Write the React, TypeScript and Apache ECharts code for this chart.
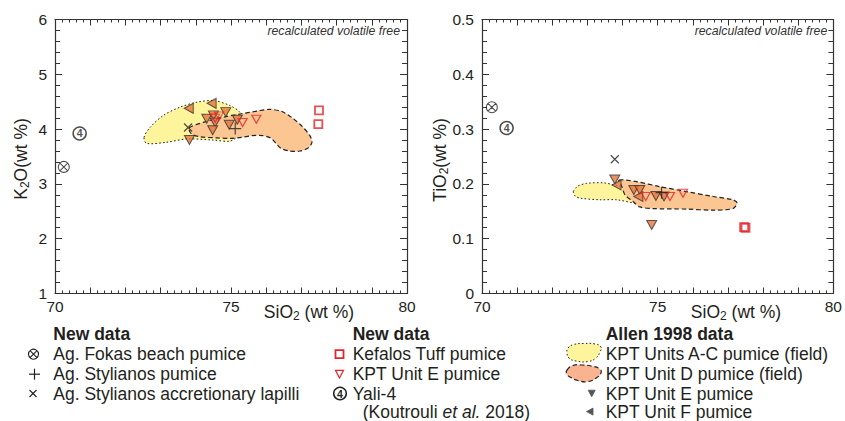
import React, { useEffect, useRef } from 'react';
import * as echarts from 'echarts';

const FONT = "'Liberation Sans', Arial, Helvetica, sans-serif";
const INK = '#231f20';
const RED = '#e3242b';
const ORANGE_MARK = '#e8743b';

// Axis ranges and labels
const SIO2_MIN = 70;
const SIO2_MAX = 80;
const SIO2_TICK_LABELS = [70, 75, 80];
const K2O_MIN = 1;
const K2O_MAX = 6;
const TIO2_MIN = 0;
const TIO2_MAX = 0.5;

// ---------- K2O vs SiO2 (left panel) ----------
const FOKAS_K2O = [[70.25, 3.31]];
const YALI_K2O = [[70.7, 3.92]];
const KEFALOS_K2O = [[77.5, 4.34], [77.48, 4.09]];
const NEW_E_K2O = [[74.55, 4.2], [74.66, 4.24], [75.33, 4.12], [75.72, 4.18]];
const STYL_PUMICE_K2O = [[75.12, 4.01]];
const STYL_LAPILLI_K2O = [[73.78, 4.03]];
const ALLEN_E_K2O = [[73.82, 3.8], [74.31, 4.19], [74.5, 4.25], [74.55, 4.12], [74.48, 3.98], [74.85, 4.31], [74.95, 4.08], [75.18, 4.17]];
const ALLEN_F_K2O = [[73.8, 4.38], [74.45, 4.47]];
const FIELD_AC_K2O = [[72.53, 3.85], [72.7, 4.03], [73.08, 4.25], [73.55, 4.4], [74.03, 4.49], [74.5, 4.52], [74.97, 4.43], [75.26, 4.3], [75.35, 4.1], [75.2, 3.88], [74.97, 3.78], [74.5, 3.8], [73.74, 3.82], [73.17, 3.76], [72.6, 3.74]];
const FIELD_D_K2O = [[73.81, 4.02], [74.3, 4.14], [74.8, 4.22], [75.3, 4.28], [75.75, 4.33], [76.1, 4.36], [76.45, 4.32], [76.75, 4.2], [77.02, 4.05], [77.24, 3.88], [77.3, 3.76], [77.2, 3.66], [76.96, 3.6], [76.66, 3.6], [76.42, 3.65], [76.28, 3.74], [76.12, 3.84], [75.9, 3.88], [75.6, 3.88], [75.3, 3.85], [75.0, 3.83], [74.6, 3.84], [74.12, 3.86], [73.88, 3.91]];

// ---------- TiO2 vs SiO2 (right panel) ----------
const FOKAS_TIO2 = [[70.28, 0.34]];
const YALI_TIO2 = [[70.7, 0.302]];
const KEFALOS_TIO2 = [[77.46, 0.121], [77.5, 0.12]];
const NEW_E_TIO2 = [[74.66, 0.177], [75.35, 0.177], [75.72, 0.183]];
const STYL_PUMICE_TIO2 = [[75.11, 0.184]];
const STYL_LAPILLI_TIO2 = [[73.78, 0.245]];
const ALLEN_E_TIO2 = [[73.78, 0.208], [74.32, 0.189], [74.49, 0.189], [74.95, 0.178], [75.18, 0.177], [74.83, 0.125]];
const ALLEN_F_TIO2 = [[73.83, 0.198], [74.45, 0.177]];
const FIELD_AC_TIO2 = [[72.6, 0.186], [72.73, 0.196], [72.98, 0.201], [73.45, 0.202], [73.78, 0.198], [74.21, 0.193], [74.78, 0.185], [75.2, 0.178], [75.29, 0.167], [75.07, 0.16], [74.49, 0.163], [73.83, 0.171], [73.36, 0.171], [72.79, 0.174], [72.65, 0.178]];
const FIELD_D_TIO2 = [[73.9, 0.207], [74.4, 0.204], [75.06, 0.195], [75.82, 0.186], [76.58, 0.177], [77.14, 0.171], [77.26, 0.165], [77.14, 0.155], [76.58, 0.152], [75.82, 0.154], [74.87, 0.155], [74.49, 0.158], [74.3, 0.168], [74.07, 0.18], [73.98, 0.195]];

// Legend texts
const LEGEND_HEAD_1 = 'New data';
const LEGEND_COL_1 = ['Ag. Fokas beach pumice', 'Ag. Stylianos pumice', 'Ag. Stylianos accretionary lapilli'];
const LEGEND_HEAD_2 = 'New data';
const LEGEND_COL_2 = ['Kefalos Tuff pumice', 'KPT Unit E pumice', 'Yali-4'];
const LEGEND_HEAD_3 = 'Allen 1998 data';
const LEGEND_COL_3 = ['KPT Units A-C pumice (field)', 'KPT Unit D pumice (field)', 'KPT Unit E pumice', 'KPT Unit F pumice'];
const NOTE = 'recalculated volatile free';

const OTIMES = 'path://M0,5A5,5,0,1,1,10,5A5,5,0,1,1,0,5ZM1.46,1.46L8.54,8.54M8.54,1.46L1.46,8.54';
const PLUS = 'path://M5,0L5,10M0,5L10,5';
const CROSS = 'path://M0,0L10,10M10,0L0,10';

const axisLineStyle = { color: '#333', width: 1.2 };
const tickStyle = { color: '#333', width: 1 };

function xAxisPair(gridIndex: number) {
  const base: any = {
    type: 'value', gridIndex, min: SIO2_MIN, max: SIO2_MAX, interval: 1,
    axisLine: { show: true, onZero: false, lineStyle: axisLineStyle },
    axisTick: { show: true, inside: true, length: 6, lineStyle: tickStyle },
    minorTick: { show: true, splitNumber: 5, length: 3, lineStyle: tickStyle },
    splitLine: { show: false }, minorSplitLine: { show: false },
  };
  return [
    {
      ...base, position: 'bottom',
      axisLabel: {
        show: true, margin: 5, fontSize: 15.5, fontFamily: FONT, color: INK,
        formatter: (v: number) => (SIO2_TICK_LABELS.some((t) => Math.abs(t - v) < 1e-6) ? String(v) : ''),
      },
    },
    { ...base, position: 'top', axisLabel: { show: false } },
  ];
}

function yAxisPair(gridIndex: number, min: number, max: number, interval: number) {
  const base: any = {
    type: 'value', gridIndex, min, max, interval,
    axisLine: { show: true, onZero: false, lineStyle: axisLineStyle },
    axisTick: { show: true, inside: true, length: 7, lineStyle: tickStyle },
    minorTick: { show: true, splitNumber: 5, length: 5, lineStyle: tickStyle },
    splitLine: { show: false }, minorSplitLine: { show: false },
  };
  return [
    { ...base, position: 'left', axisLabel: { show: true, margin: 8, fontSize: 15.5, fontFamily: FONT, color: INK } },
    { ...base, position: 'right', axisLabel: { show: false } },
  ];
}

function field(name: string, points: number[][], xi: number, yi: number, style: any) {
  return {
    type: 'custom', name, xAxisIndex: xi, yAxisIndex: yi, data: points, silent: true, z: 1,
    renderItem: (params: any, api: any) => {
      if (params.dataIndex !== 0) return null;
      const pts = points.map((p) => api.coord(p));
      return { type: 'polygon', shape: { points: pts, smooth: 0.3 }, style: { ...style } };
    },
  };
}

function pts(name: string, data: number[][], xi: number, yi: number, symbol: string, symbolSize: any, itemStyle: any, extra: any = {}) {
  return {
    type: 'scatter', name, data, xAxisIndex: xi, yAxisIndex: yi, symbol, symbolSize, itemStyle,
    silent: true, emphasis: { disabled: true }, z: 3, ...extra,
  };
}

const yellowStyle = { fill: '#fdf49c', stroke: '#222', lineWidth: 1, lineDash: [1.6, 2.2] };
const orangeStyle = { fill: '#fbc691', stroke: '#222', lineWidth: 1.2, lineDash: [4.5, 2.8], blend: 'multiply' };

function panelSeries(xi: number, yi: number, d: any) {
  return [
    field('KPT Units A-C pumice (field)', d.ac, xi, yi, yellowStyle),
    field('KPT Unit D pumice (field)', d.d, xi, yi, orangeStyle),
    pts('Allen KPT Unit E pumice', d.allenE, xi, yi, 'triangle', [10, 9], { color: ORANGE_MARK, borderColor: '#333', borderWidth: 1 }, { symbolRotate: 180 }),
    pts('Allen KPT Unit F pumice', d.allenF, xi, yi, 'triangle', [10, 9], { color: ORANGE_MARK, borderColor: '#333', borderWidth: 1 }, { symbolRotate: 90 }),
    pts('KPT Unit E pumice', d.newE, xi, yi, 'triangle', [9, 8], { color: 'rgba(0,0,0,0)', borderColor: RED, borderWidth: 1.2 }, { symbolRotate: 180 }),
    pts('Kefalos Tuff pumice', d.kef, xi, yi, 'rect', 8, { color: 'rgba(0,0,0,0)', borderColor: RED, borderWidth: 1.8 }),
    pts('Ag. Stylianos pumice', d.stylP, xi, yi, PLUS, 12, { color: 'rgba(0,0,0,0)', borderColor: INK, borderWidth: 1.2 }),
    pts('Ag. Stylianos accretionary lapilli', d.stylL, xi, yi, CROSS, 8, { color: 'rgba(0,0,0,0)', borderColor: INK, borderWidth: 1.2 }),
    pts('Ag. Fokas beach pumice', d.fokas, xi, yi, OTIMES, 11, { color: 'rgba(0,0,0,0)', borderColor: INK, borderWidth: 1.1 }),
    pts('Yali-4', d.yali, xi, yi, 'circle', 13, { color: 'rgba(0,0,0,0)', borderColor: INK, borderWidth: 1.5 }, {
      label: { show: true, position: 'inside', formatter: '4', fontSize: 10.5, fontWeight: 'bold', color: INK, fontFamily: FONT },
    }),
  ];
}

function txt(x: number, y: number, text: string, extra: any = {}) {
  return {
    type: 'text', x, y, silent: true,
    style: {
      text, fill: INK, fontFamily: FONT, fontSize: 17.5,
      align: 'left', verticalAlign: 'middle', textAlign: 'left', textVerticalAlign: 'middle', ...extra,
    },
  };
}

function subLabel(x: number, y: number, a: string, b: string, c: string, rotation = 0) {
  return {
    type: 'text', x, y, rotation, silent: true,
    style: {
      text: `{n|${a}}{s|${b}}{n|${c}}`,
      align: 'center', verticalAlign: 'middle', textAlign: 'center', textVerticalAlign: 'middle',
      rich: {
        n: { fontSize: 17.5, fontFamily: FONT, fill: INK, lineHeight: 20 },
        s: { fontSize: 12, fontFamily: FONT, fill: INK, verticalAlign: 'bottom' },
      },
    },
  };
}

const line = (x1: number, y1: number, x2: number, y2: number, color = INK, w = 1.1) => ({
  type: 'line', silent: true, shape: { x1, y1, x2, y2 }, style: { stroke: color, lineWidth: w },
});

function buildGraphics() {
  const g: any[] = [];
  // axis titles
  g.push(subLabel(309, 311.5, 'SiO', '2', ' (wt %)'));
  g.push(subLabel(736, 311.5, 'SiO', '2', ' (wt %)'));
  g.push(subLabel(20.5, 159, 'K', '2', 'O(wt %)', Math.PI / 2));
  g.push(subLabel(440, 160, 'TiO', '2', '(wt %)', Math.PI / 2));
  // note
  g.push(txt(400, 30.5, NOTE, { fontSize: 12.3, fontStyle: 'italic', fill: '#333', align: 'right', textAlign: 'right' }));
  g.push(txt(827.3, 30.5, NOTE, { fontSize: 12.3, fontStyle: 'italic', fill: '#333', align: 'right', textAlign: 'right' }));

  const rows = [354.2, 374.2, 393.5, 411.6];
  // column 1
  g.push(txt(53.3, 334.2, LEGEND_HEAD_1, { fontWeight: 'bold' }));
  LEGEND_COL_1.forEach((t, i) => g.push(txt(53.3, rows[i], t)));
  g.push({ type: 'circle', silent: true, shape: { cx: 33.5, cy: rows[0], r: 5 }, style: { fill: 'none', stroke: INK, lineWidth: 1.1 } });
  g.push(line(30, rows[0] - 3.5, 37, rows[0] + 3.5));
  g.push(line(37, rows[0] - 3.5, 30, rows[0] + 3.5));
  g.push(line(29, rows[1], 40, rows[1], INK, 1.2));
  g.push(line(34.5, rows[1] - 5.5, 34.5, rows[1] + 5.5, INK, 1.2));
  g.push(line(29.5, rows[2] - 3.5, 36.5, rows[2] + 3.5));
  g.push(line(36.5, rows[2] - 3.5, 29.5, rows[2] + 3.5));

  // column 2
  g.push(txt(352.7, 334.2, LEGEND_HEAD_2, { fontWeight: 'bold' }));
  LEGEND_COL_2.forEach((t, i) => g.push(txt(352.7, rows[i], t)));
  g.push({
    type: 'text', x: 362.7, y: rows[3], silent: true,
    style: {
      text: '{n|(Koutrouli }{i|et al.}{n| 2018)}', align: 'left', verticalAlign: 'middle', textAlign: 'left', textVerticalAlign: 'middle',
      rich: {
        n: { fontSize: 17.5, fontFamily: FONT, fill: INK, lineHeight: 18 },
        i: { fontSize: 17.5, fontFamily: FONT, fill: INK, fontStyle: 'italic', lineHeight: 18 },
      },
    },
  });
  g.push({ type: 'rect', silent: true, shape: { x: 335.5, y: rows[0] - 4, width: 8, height: 8 }, style: { fill: 'none', stroke: RED, lineWidth: 1.8 } });
  g.push({ type: 'polygon', silent: true, shape: { points: [[335.5, rows[1] - 3.8], [343.5, rows[1] - 3.8], [339.5, rows[1] + 3.8]] }, style: { fill: 'none', stroke: RED, lineWidth: 1.2 } });
  g.push({ type: 'circle', silent: true, shape: { cx: 340, cy: rows[2], r: 6.3 }, style: { fill: 'none', stroke: INK, lineWidth: 1.5 } });
  g.push({ type: 'text', x: 340, y: rows[2] + 0.5, silent: true, style: { text: '4', fontSize: 10.5, fontWeight: 'bold', fontFamily: FONT, fill: INK, align: 'center', verticalAlign: 'middle', textAlign: 'center', textVerticalAlign: 'middle' } });

  // column 3
  g.push(txt(605.7, 334.2, LEGEND_HEAD_3, { fontWeight: 'bold' }));
  LEGEND_COL_3.forEach((t, i) => g.push(txt(605.7, rows[i], t)));
  g.push({
    type: 'polygon', silent: true,
    shape: { smooth: 0.5, points: [[568, 348], [574, 344.5], [584, 343.5], [595, 344], [601, 347], [600, 352], [596, 358], [588, 361.5], [576, 361], [569, 358], [567, 353]] },
    style: { fill: '#fdf49c', stroke: '#222', lineWidth: 1, lineDash: [1.6, 2.2] },
  });
  g.push({
    type: 'polygon', silent: true,
    shape: { smooth: 0.5, points: [[567, 370], [573, 365.5], [582, 365], [591, 366], [600, 369], [601, 373], [597, 377.5], [588, 381.5], [578, 380.5], [570, 377], [566.5, 373.5]] },
    style: { fill: '#f9b48f', stroke: '#222', lineWidth: 1.2, lineDash: [4.5, 2.8] },
  });
  g.push({ type: 'polygon', silent: true, shape: { points: [[588.2, rows[2] - 3.3], [595.2, rows[2] - 3.3], [591.7, rows[2] + 3.3]] }, style: { fill: '#555', stroke: '#555', lineWidth: 0.8 } });
  g.push({ type: 'polygon', silent: true, shape: { points: [[593, rows[3] - 3.5], [593, rows[3] + 3.5], [586.5, rows[3]]] }, style: { fill: '#555', stroke: '#555', lineWidth: 0.8 } });
  return g;
}

export default function App() {
  const ref = useRef<HTMLDivElement>(null);
  useEffect(() => {
    if (!ref.current) return;
    const chart = echarts.init(ref.current, null, { renderer: 'svg' });
    const leftData = {
      ac: FIELD_AC_K2O, d: FIELD_D_K2O, allenE: ALLEN_E_K2O, allenF: ALLEN_F_K2O, newE: NEW_E_K2O,
      kef: KEFALOS_K2O, stylP: STYL_PUMICE_K2O, stylL: STYL_LAPILLI_K2O, fokas: FOKAS_K2O, yali: YALI_K2O,
    };
    const rightData = {
      ac: FIELD_AC_TIO2, d: FIELD_D_TIO2, allenE: ALLEN_E_TIO2, allenF: ALLEN_F_TIO2, newE: NEW_E_TIO2,
      kef: KEFALOS_TIO2, stylP: STYL_PUMICE_TIO2, stylL: STYL_LAPILLI_TIO2, fokas: FOKAS_TIO2, yali: YALI_TIO2,
    };
    const option: any = {
      animation: false,
      backgroundColor: '#ffffff',
      grid: [
        { left: 55, top: 19.5, width: 352, height: 274 },
        { left: 482, top: 19.5, width: 352, height: 274 },
      ],
      xAxis: [...xAxisPair(0), ...xAxisPair(1)],
      yAxis: [...yAxisPair(0, K2O_MIN, K2O_MAX, 1), ...yAxisPair(1, TIO2_MIN, TIO2_MAX, 0.1)],
      series: [...panelSeries(0, 0, leftData), ...panelSeries(2, 2, rightData)],
      graphic: buildGraphics(),
    };
    chart.setOption(option);
    return () => chart.dispose();
  }, []);
  return (
    <div
      ref={ref}
      style={{ position: 'fixed', left: 0, top: 0, width: 845, height: 421, background: '#fff' }}
    />
  );
}
